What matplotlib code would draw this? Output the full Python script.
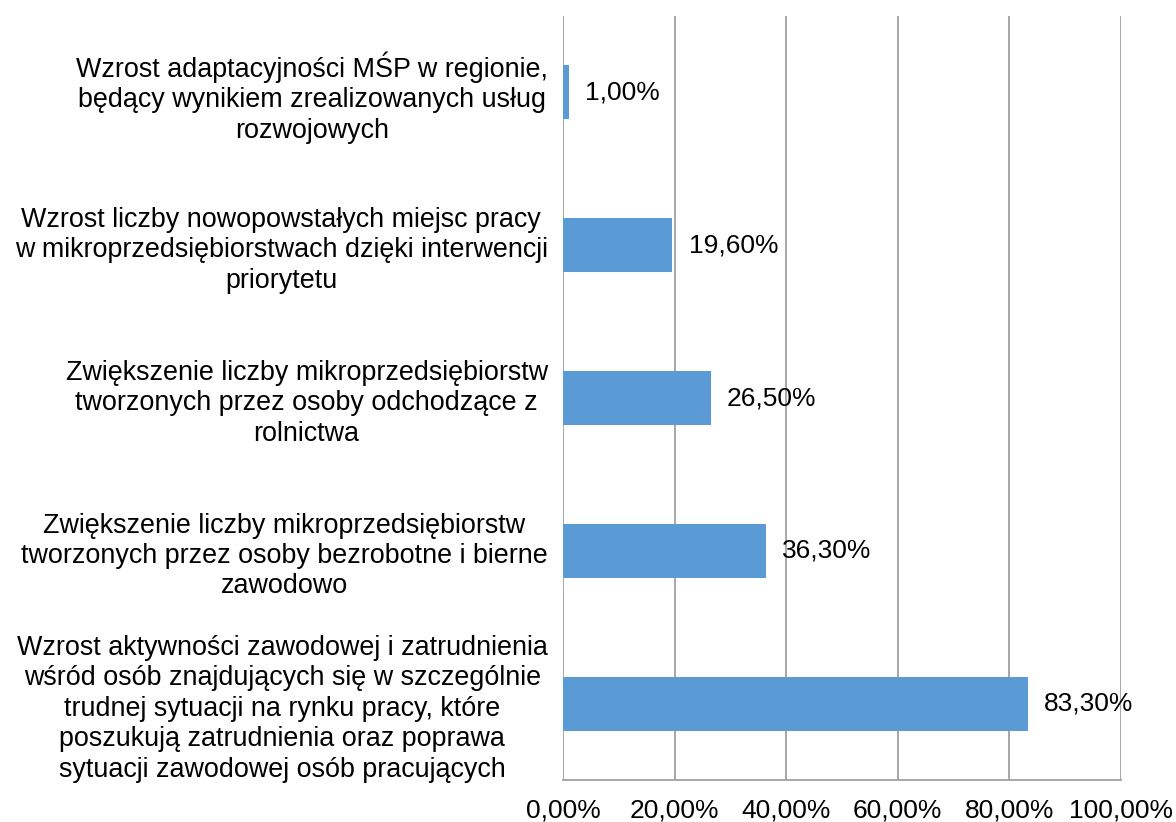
import matplotlib.pyplot as plt

plt.rcParams['font.family'] = ['Liberation Sans', 'DejaVu Sans']

categories = [
    "Wzrost adaptacyjności MŚP w regionie,\nbędący wynikiem zrealizowanych usług\nrozwojowych",
    "Wzrost liczby nowopowstałych miejsc pracy\nw mikroprzedsiębiorstwach dzięki interwencji\npriorytetu",
    "Zwiększenie liczby mikroprzedsiębiorstw\ntworzonych przez osoby odchodzące z\nrolnictwa",
    "Zwiększenie liczby mikroprzedsiębiorstw\ntworzonych przez osoby bezrobotne i bierne\nzawodowo",
    "Wzrost aktywności zawodowej i zatrudnienia\nwśród osób znajdujących się w szczególnie\ntrudnej sytuacji na rynku pracy, które\nposzukują zatrudnienia oraz poprawa\nsytuacji zawodowej osób pracujących",
]
values = [1.0, 19.6, 26.5, 36.3, 83.3]
ticks = [0, 20, 40, 60, 80, 100]
tick_labels = ["0,00%", "20,00%", "40,00%", "60,00%", "80,00%", "100,00%"]

fig = plt.figure(figsize=(11.76, 8.22), dpi=100)
ax = fig.add_axes([0.4787, 0.0511, 0.4745, 0.9294])

ypos = list(range(len(categories)))
ax.barh(ypos, values, height=0.353, color="#5B9BD5", zorder=3)

for y, v in zip(ypos, values):
    ax.text(v + 2.9, y, f"{v:.2f}%".replace(".", ","), va="center", ha="left",
            fontsize=19, color="black", zorder=4)

ax.set_xlim(0, 100)
ax.set_ylim(len(categories) - 0.5, -0.5)
ax.set_xticks(ticks)
ax.set_xticklabels(tick_labels, fontsize=19)
ax.set_yticks(ypos)
ax.set_yticklabels(categories, fontsize=19.4)
for lbl in ax.get_yticklabels():
    lbl.set_multialignment("center")
    lbl.set_linespacing(1.22)

ax.tick_params(axis="x", length=0, pad=13)
ax.tick_params(axis="y", length=0, pad=11)
ax.grid(axis="x", color="#A0A0A0", linewidth=1.3, zorder=0)
for s in ["top", "right", "left"]:
    ax.spines[s].set_visible(False)
ax.spines["bottom"].set_color("#A0A0A0")
ax.spines["bottom"].set_linewidth(1.3)

fig.savefig("out.png", dpi=100)
